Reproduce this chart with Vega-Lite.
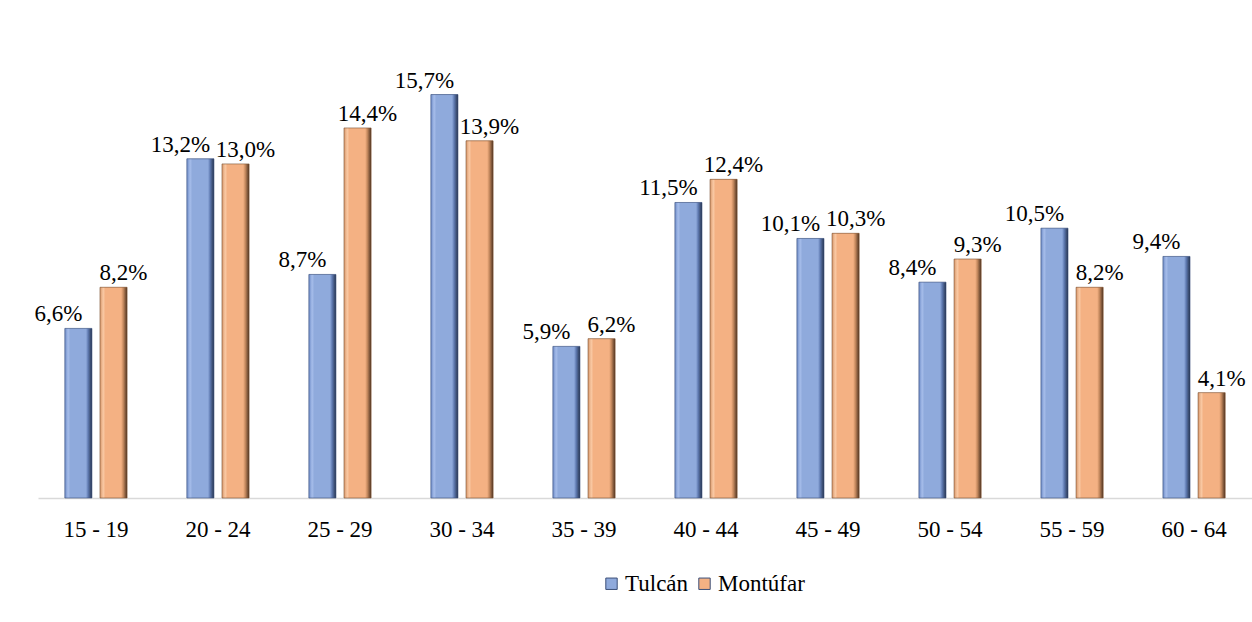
{
  "$schema": "https://vega.github.io/schema/vega-lite/v6.json",
  "autosize": {"type": "none"},
  "width": 1214,
  "height": 460,
  "padding": {"left": 38, "top": 38, "right": 0, "bottom": 124},
  "background": "white",
  "config": {
    "view": {"stroke": null},
    "font": "Liberation Serif",
    "text": {"font": "Liberation Serif"},
    "legend": {"labelFont": "Liberation Serif"},
    "axis": {"labelFont": "Liberation Serif"}
  },
  "data": {
    "values": [
      {"grupo": "15 - 19", "canton": "Tulcán", "valor": 6.6, "label": "6,6%"},
      {"grupo": "15 - 19", "canton": "Montúfar", "valor": 8.2, "label": "8,2%"},
      {"grupo": "20 - 24", "canton": "Tulcán", "valor": 13.2, "label": "13,2%"},
      {"grupo": "20 - 24", "canton": "Montúfar", "valor": 13.0, "label": "13,0%"},
      {"grupo": "25 - 29", "canton": "Tulcán", "valor": 8.7, "label": "8,7%"},
      {"grupo": "25 - 29", "canton": "Montúfar", "valor": 14.4, "label": "14,4%"},
      {"grupo": "30 - 34", "canton": "Tulcán", "valor": 15.7, "label": "15,7%"},
      {"grupo": "30 - 34", "canton": "Montúfar", "valor": 13.9, "label": "13,9%"},
      {"grupo": "35 - 39", "canton": "Tulcán", "valor": 5.9, "label": "5,9%"},
      {"grupo": "35 - 39", "canton": "Montúfar", "valor": 6.2, "label": "6,2%"},
      {"grupo": "40 - 44", "canton": "Tulcán", "valor": 11.5, "label": "11,5%"},
      {"grupo": "40 - 44", "canton": "Montúfar", "valor": 12.4, "label": "12,4%"},
      {"grupo": "45 - 49", "canton": "Tulcán", "valor": 10.1, "label": "10,1%"},
      {"grupo": "45 - 49", "canton": "Montúfar", "valor": 10.3, "label": "10,3%"},
      {"grupo": "50 - 54", "canton": "Tulcán", "valor": 8.4, "label": "8,4%"},
      {"grupo": "50 - 54", "canton": "Montúfar", "valor": 9.3, "label": "9,3%"},
      {"grupo": "55 - 59", "canton": "Tulcán", "valor": 10.5, "label": "10,5%"},
      {"grupo": "55 - 59", "canton": "Montúfar", "valor": 8.2, "label": "8,2%"},
      {"grupo": "60 - 64", "canton": "Tulcán", "valor": 9.4, "label": "9,4%"},
      {"grupo": "60 - 64", "canton": "Montúfar", "valor": 4.1, "label": "4,1%"}
    ]
  },
  "encoding": {
    "x": {
      "field": "grupo", "type": "nominal", "sort": null,
      "scale": {"paddingInner": 0.49, "paddingOuter": 0.22},
      "axis": {
        "title": null, "ticks": false, "labelAngle": 0,
        "domainColor": "#D9D9D9", "domainWidth": 1.5,
        "labelFont": "Liberation Serif", "labelFontSize": 23, "labelColor": "#000000",
        "labelPadding": 20
      }
    },
    "xOffset": {
      "field": "canton", "type": "nominal",
      "scale": {"domain": ["Tulcán", "Montúfar"], "paddingInner": 0.229, "paddingOuter": 0}
    },
    "y": {
      "field": "valor", "type": "quantitative",
      "scale": {"domain": [0, 17.9], "nice": false},
      "axis": null
    }
  },
  "layer": [
    {
      "mark": {"type": "bar"},
      "encoding": {
        "color": {
          "field": "canton", "type": "nominal",
          "scale": {"domain": ["Tulcán", "Montúfar"], "range": ["#8FAADC", "#F4B183"]},
          "legend": {
            "title": null, "orient": "none", "direction": "horizontal",
            "legendX": 562, "legendY": 534,
            "symbolType": "square", "symbolSize": 130, "symbolStrokeWidth": 1,
            "symbolStrokeColor": "#3B4F78",
            "labelFont": "Liberation Serif", "labelFontSize": 23, "labelColor": "#000000",
            "columnPadding": 4, "labelOffset": 2
          }
        }
      }
    },
    {
      "transform": [{"filter": "datum.canton === 'Tulcán'"}],
      "mark": {
        "type": "bar",
        "stroke": "#3B4F78", "strokeWidth": 0.6,
        "color": {
          "gradient": "linear", "x1": 0, "x2": 1, "y1": 0, "y2": 0,
          "stops": [
            {"offset": 0, "color": "#6E8CC8"},
            {"offset": 0.12, "color": "#A6BDEA"},
            {"offset": 0.2, "color": "#8FAADC"},
            {"offset": 0.78, "color": "#8FAADC"},
            {"offset": 0.86, "color": "#5E79B0"},
            {"offset": 1, "color": "#26344F"}
          ]
        }
      }
    },
    {
      "transform": [{"filter": "datum.canton === 'Montúfar'"}],
      "mark": {
        "type": "bar",
        "stroke": "#7A5234", "strokeWidth": 0.6,
        "color": {
          "gradient": "linear", "x1": 0, "x2": 1, "y1": 0, "y2": 0,
          "stops": [
            {"offset": 0, "color": "#D8976A"},
            {"offset": 0.12, "color": "#F9C9A4"},
            {"offset": 0.2, "color": "#F4B183"},
            {"offset": 0.78, "color": "#F4B183"},
            {"offset": 0.86, "color": "#C68A5F"},
            {"offset": 1, "color": "#4F3320"}
          ]
        }
      }
    },
    {
      "transform": [{"filter": "datum.canton === 'Tulcán'"}],
      "mark": {"type": "text", "font": "Liberation Serif", "baseline": "bottom", "dy": -2, "dx": -20, "fontSize": 23, "color": "#000000"},
      "encoding": {"text": {"field": "label"}}
    },
    {
      "transform": [{"filter": "datum.canton === 'Montúfar'"}],
      "mark": {"type": "text", "font": "Liberation Serif", "baseline": "bottom", "dy": -2, "dx": 10, "fontSize": 23, "color": "#000000"},
      "encoding": {"text": {"field": "label"}}
    }
  ]
}
